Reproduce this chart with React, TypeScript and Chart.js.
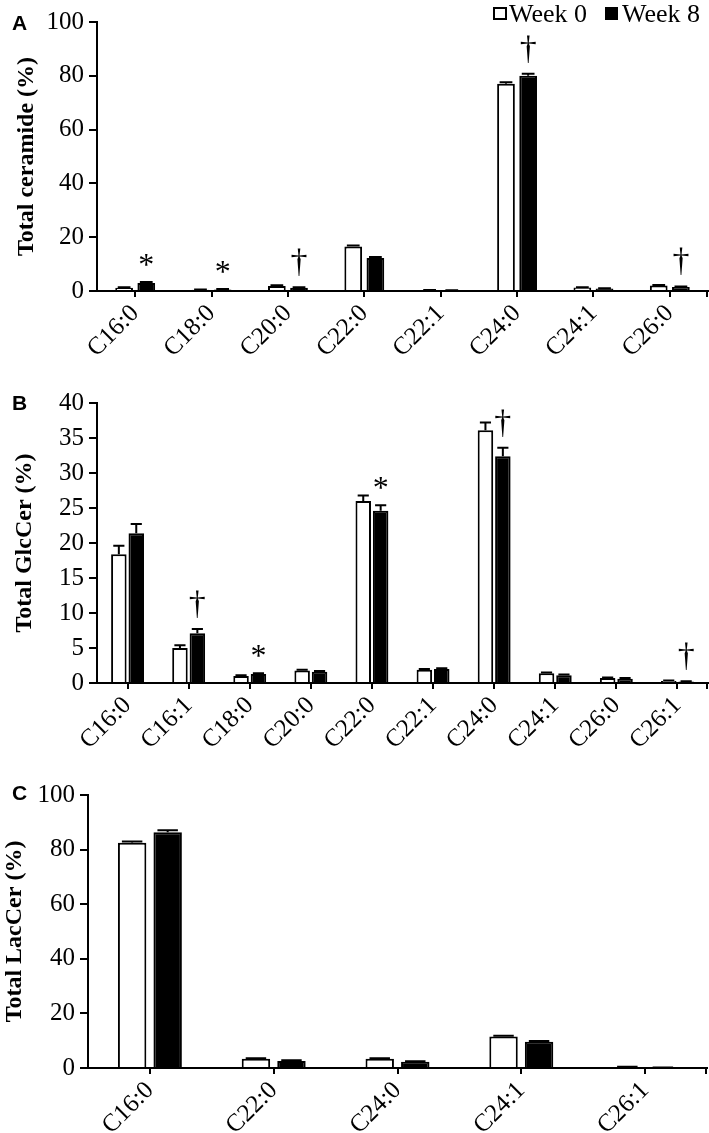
import React, { useEffect, useRef } from "react";
import { Chart, registerables } from "chart.js";
Chart.register(...registerables);

const SERIF = "'Liberation Serif', 'Times New Roman', serif";

// ---------- Panel A: Total ceramide ----------
const categoriesA = ["C16:0", "C18:0", "C20:0", "C22:0", "C22:1", "C24:0", "C24:1", "C26:0"];
const week0A = [1.2, 0.5, 1.9, 16.5, 0.3, 77.0, 1.3, 2.0];
const week8A = [3.0, 0.6, 1.2, 12.3, 0.2, 80.0, 0.9, 1.5];
const err0A = [0.2, 0.1, 0.2, 0.4, 0.1, 0.6, 0.1, 0.2];
const err8A = [0.3, 0.1, 0.2, 0.3, 0.1, 0.8, 0.1, 0.2];
const marksA = ["*", "*", "†", "", "", "†", "", "†"];
const yMaxA = 100;
const yStepA = 20;

// ---------- Panel B: Total GlcCer ----------
const categoriesB = ["C16:0", "C16:1", "C18:0", "C20:0", "C22:0", "C22:1", "C24:0", "C24:1", "C26:0", "C26:1"];
const week0B = [18.4, 5.0, 1.0, 1.8, 26.0, 1.9, 36.1, 1.4, 0.7, 0.3];
const week8B = [21.4, 7.1, 1.3, 1.6, 24.6, 2.0, 32.4, 1.1, 0.6, 0.2];
const err0B = [1.2, 0.4, 0.1, 0.1, 0.8, 0.1, 1.1, 0.1, 0.1, 0.05];
const err8B = [1.3, 0.6, 0.1, 0.1, 0.8, 0.1, 1.2, 0.1, 0.1, 0.05];
const marksB = ["", "†", "*", "", "*", "", "†", "", "", "†"];
const yMaxB = 40;
const yStepB = 5;

// ---------- Panel C: Total LacCer ----------
const categoriesC = ["C16:0", "C22:0", "C24:0", "C24:1", "C26:1"];
const week0C = [82.5, 3.4, 3.4, 11.5, 0.4];
const week8C = [86.4, 2.6, 2.3, 9.6, 0.1];
const err0C = [0.5, 0.2, 0.2, 0.3, 0.1];
const err8C = [0.7, 0.2, 0.2, 0.3, 0.05];
const marksC = ["", "", "", "", ""];
const yMaxC = 100;
const yStepC = 20;

const seriesNames = ["Week 0", "Week 8"];

type PanelProps = {
  letter: string;
  title: string;
  categories: string[];
  w0: number[];
  w8: number[];
  e0: number[];
  e8: number[];
  marks: string[];
  yMax: number;
  yStep: number;
  top: number;
  height: number;
  areaTop: number;
  areaBottom: number;
  areaLeft: number;
  areaRight: number;
  catPct: number;
  barPct: number;
  titleOffset: number;
  letterY: number;
  tickFont: number;
  showLegend?: boolean;
};

function Panel(p: PanelProps) {
  const ref = useRef<HTMLCanvasElement | null>(null);
  useEffect(() => {
    if (!ref.current) return;
    const W = 709;
    const overlay = {
      id: "overlay",
      afterDatasetsDraw(chart: any) {
        const ctx = chart.ctx;
        const ys = chart.scales.y;
        ctx.save();
        ctx.strokeStyle = "#000";
        ctx.lineWidth = 2;
        const vals = [p.w0, p.w8];
        const errs = [p.e0, p.e8];
        for (let di = 0; di < 2; di++) {
          const meta = chart.getDatasetMeta(di);
          meta.data.forEach((el: any, i: number) => {
            const v = vals[di][i];
            const e = errs[di][i];
            const x = el.x;
            const w = el.width;
            const yTop = ys.getPixelForValue(v + e);
            const yBase = ys.getPixelForValue(v);
            ctx.beginPath();
            ctx.moveTo(x, yBase);
            ctx.lineTo(x, yTop);
            ctx.moveTo(x - w * 0.36, yTop);
            ctx.lineTo(x + w * 0.36, yTop);
            ctx.stroke();
          });
        }
        // significance marks above Week 8 bars
        const meta8 = chart.getDatasetMeta(1);
        ctx.fillStyle = "#000";
        ctx.textAlign = "center";
        ctx.textBaseline = "alphabetic";
        p.marks.forEach((m: string, i: number) => {
          if (!m) return;
          const el: any = meta8.data[i];
          const yTop = ys.getPixelForValue(p.w8[i] + p.e8[i]);
          if (m === "*") {
            ctx.font = `32px ${SERIF}`;
            ctx.fillText(m, el.x, yTop - 7);
          } else {
            ctx.font = `34px ${SERIF}`;
            ctx.fillText(m, el.x, yTop - 15);
          }
        });
        // small end tick at the right end of x axis
        const area = chart.chartArea;
        ctx.beginPath();
        ctx.moveTo(area.right - 1, area.bottom);
        ctx.lineTo(area.right - 1, area.bottom + 6);
        ctx.stroke();
        // panel letter
        ctx.font = `bold 21px 'Liberation Sans', Arial, sans-serif`;
        ctx.textAlign = "left";
        ctx.fillText(p.letter, 12, p.letterY);
        // legend
        if (p.showLegend) {
          ctx.lineWidth = 2;
          ctx.strokeRect(494, 8, 12, 11);
          ctx.fillRect(605, 7, 13, 13);
          ctx.font = `26px ${SERIF}`;
          ctx.textAlign = "left";
          ctx.fillText(seriesNames[0], 509, 22);
          ctx.fillText(seriesNames[1], 622, 22);
        }
        ctx.restore();
      },
    };

    const chart = new Chart(ref.current, {
      type: "bar",
      data: {
        labels: p.categories,
        datasets: [
          {
            label: seriesNames[0],
            data: p.w0,
            backgroundColor: "#ffffff",
            borderColor: "#000000",
            borderWidth: 2,
            categoryPercentage: p.catPct,
            barPercentage: p.barPct,
          },
          {
            label: seriesNames[1],
            data: p.w8,
            backgroundColor: "#000000",
            borderColor: "#000000",
            borderWidth: 2,
            categoryPercentage: p.catPct,
            barPercentage: p.barPct,
          },
        ],
      },
      options: {
        responsive: false,
        animation: false,
        devicePixelRatio: 1,
        layout: {
          padding: { top: p.areaTop, right: W - p.areaRight, left: 0, bottom: 0 },
        },
        plugins: { legend: { display: false }, tooltip: { enabled: false } },
        scales: {
          x: {
            offset: true,
            grid: {
              display: true,
              drawOnChartArea: false,
              drawTicks: true,
              tickLength: 6,
              color: "#000",
              lineWidth: 2,
              offset: false,
            },
            border: { display: true, color: "#000", width: 2 },
            ticks: {
              color: "#000",
              font: { family: SERIF, size: 25 },
              minRotation: 45,
              maxRotation: 45,
              padding: 2,
              autoSkip: false,
            },
            afterFit: (s: any) => {
              s.height = p.height - p.areaBottom;
            },
          },
          y: {
            min: 0,
            max: p.yMax,
            grid: {
              display: true,
              drawOnChartArea: false,
              drawTicks: true,
              tickLength: 8,
              color: "#000",
              lineWidth: 2,
            },
            border: { display: true, color: "#000", width: 2 },
            ticks: {
              stepSize: p.yStep,
              color: "#000",
              font: { family: SERIF, size: p.tickFont },
              padding: 5,
            },
            title: {
              display: true,
              text: p.title,
              color: "#000",
              font: { family: SERIF, size: 24, weight: "bold" },
              padding: { top: p.titleOffset, bottom: 0 },
            },
            afterFit: (s: any) => {
              s.width = p.areaLeft;
            },
          },
        },
      },
      plugins: [overlay],
    } as any);
    return () => chart.destroy();
  }, []);
  return (
    <canvas
      ref={ref}
      width={709}
      height={p.height}
      style={{ position: "absolute", left: 0, top: p.top, width: 709, height: p.height }}
    />
  );
}

export default function App() {
  return (
    <div style={{ position: "absolute", left: 0, top: 0, width: 709, height: 1133, background: "#fff" }}>
      <Panel
        letter="A"
        title="Total ceramide (%)"
        categories={categoriesA}
        w0={week0A}
        w8={week8A}
        e0={err0A}
        e8={err8A}
        marks={marksA}
        yMax={yMaxA}
        yStep={yStepA}
        top={0}
        height={375}
        areaTop={22}
        areaBottom={291}
        areaLeft={97}
        areaRight={708}
        catPct={0.58}
        barPct={0.8}
        titleOffset={12}
        letterY={30}
        tickFont={25}
        showLegend
      />
      <Panel
        letter="B"
        title="Total GlcCer (%)"
        categories={categoriesB}
        w0={week0B}
        w8={week8B}
        e0={err0B}
        e8={err8B}
        marks={marksB}
        yMax={yMaxB}
        yStep={yStepB}
        top={375}
        height={395}
        areaTop={28}
        areaBottom={308}
        areaLeft={97}
        areaRight={708}
        catPct={0.57}
        barPct={0.89}
        titleOffset={10}
        letterY={35}
        tickFont={25}
      />
      <Panel
        letter="C"
        title="Total LacCer (%)"
        categories={categoriesC}
        w0={week0C}
        w8={week8C}
        e0={err0C}
        e8={err8C}
        marks={marksC}
        yMax={yMaxC}
        yStep={yStepC}
        top={770}
        height={363}
        areaTop={25}
        areaBottom={298}
        areaLeft={88}
        areaRight={707}
        catPct={0.574}
        barPct={0.8}
        titleOffset={0}
        letterY={30}
        tickFont={25}
      />
    </div>
  );
}
